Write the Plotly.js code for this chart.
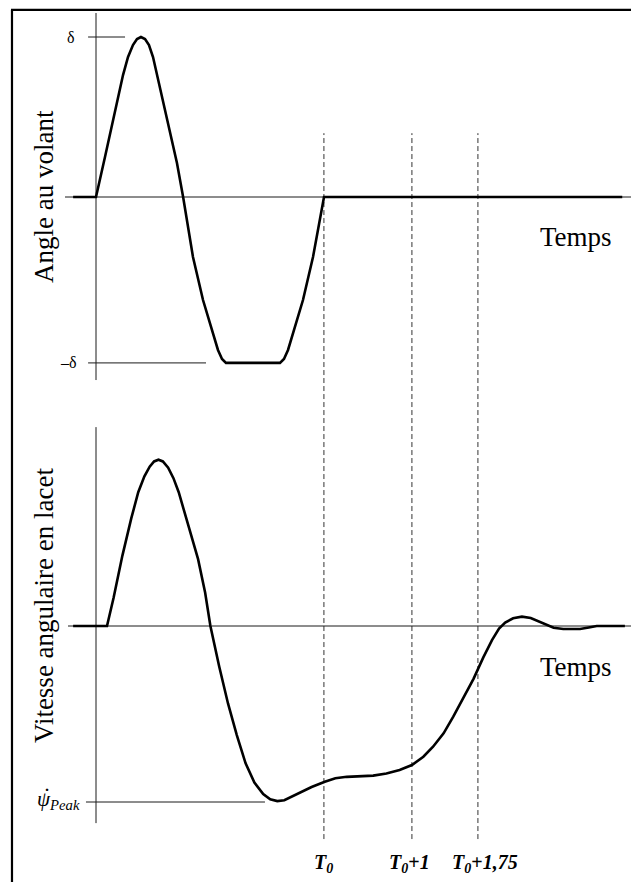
<!DOCTYPE html>
<html>
<head>
<meta charset="utf-8">
<script src="https://cdn.plot.ly/plotly-3.0.1.min.js"></script>
<style>html,body{margin:0;padding:0;background:#fff;}#chart{width:631px;height:882px;}</style>
</head>
<body>
<div id="chart"></div>
<script>
// ---- data (time in s, steering angle in units of delta, yaw rate in units of |psi_dot_peak|) ----
const T0 = 2.59;
const steerTime  = [-0.26, 0, 0.102, 0.193, 0.307, 0.364, 0.42, 0.466, 0.511, 0.557, 0.602, 0.648, 0.693, 0.761, 0.841, 0.92, 0.99, 1.102, 1.216, 1.33, 1.386, 1.432, 1.477, 2.091, 2.136, 2.182, 2.239, 2.352, 2.466, 2.591, 5.98];
const steerAngle = [0, 0, 0.25, 0.469, 0.762, 0.875, 0.95, 0.987, 1.0, 0.987, 0.95, 0.875, 0.762, 0.594, 0.412, 0.212, 0, -0.375, -0.644, -0.85, -0.956, -1.012, -1.037, -1.037, -1.012, -0.956, -0.85, -0.644, -0.375, 0, 0];
const yawTime = [-0.26, 0.125, 0.2, 0.3, 0.4, 0.48, 0.55, 0.61, 0.66, 0.71, 0.76, 0.82, 0.88, 0.94, 1.05, 1.16, 1.24, 1.30, 1.40, 1.50, 1.60, 1.70, 1.80, 1.90, 1.98, 2.06, 2.14, 2.22, 2.30, 2.45, 2.60, 2.72, 2.85, 3.00, 3.15, 3.30, 3.45, 3.59, 3.72, 3.83, 3.95, 4.06, 4.17, 4.29, 4.40, 4.50, 4.58, 4.65, 4.74, 4.84, 4.94, 5.04, 5.12, 5.20, 5.31, 5.50, 5.60, 5.69, 6.01];
const yawRate = [0, 0, 0.16, 0.40, 0.61, 0.76, 0.85, 0.905, 0.935, 0.945, 0.935, 0.90, 0.84, 0.76, 0.57, 0.38, 0.19, 0, -0.23, -0.44, -0.62, -0.78, -0.89, -0.955, -0.985, -0.995, -0.99, -0.97, -0.95, -0.915, -0.885, -0.865, -0.857, -0.854, -0.85, -0.838, -0.818, -0.79, -0.743, -0.686, -0.61, -0.515, -0.415, -0.30, -0.18, -0.08, -0.015, 0.02, 0.044, 0.053, 0.045, 0.025, 0.005, -0.01, -0.017, -0.017, -0.008, 0, 0];
const steerTickValues = [1, -1.037];
const steerTickLabels = ["δ", "–δ"];
const yawPeakValue = -1;
const yawPeakLabel = "<i>ψ</i><sub><i>Peak</i></sub>";
const yawPeakDot = "˙";
const markerOffsets = [0, 1, 1.75];
const markerLabels = ["<b><i>T<sub>0</sub></i></b>", "<b><i>T<sub>0</sub></i>+<i>1</i></b>", "<b><i>T<sub>0</sub></i>+<i>1,75</i></b>"];
const panelTitles = ["Angle au volant", "Vitesse angulaire en lacet"];
const timeLabel = "Temps";

// ---- chart ----
const serif = "Liberation Serif, Times New Roman, serif";
const axisCol = "#1a1a1a";
const traces = [
  {x: steerTime, y: steerAngle, xaxis: "x", yaxis: "y", mode: "lines",
   line: {color: "#000", width: 2.6}, hoverinfo: "skip"},
  {x: yawTime, y: yawRate, xaxis: "x", yaxis: "y2", mode: "lines",
   line: {color: "#000", width: 2.6}, hoverinfo: "skip"}
];

const shapes = [];
function seg(x0, y0, x1, y1, yref, w, col) {
  shapes.push({type: "line", xref: "x", yref: yref, x0: x0, y0: y0, x1: x1, y1: y1,
               line: {color: col || axisCol, width: w || 1}, layer: "below"});
}
// top panel axes
seg(0, -1.144, 0, 1.15, "y");
seg(-0.352, 0, 6.1, 0, "y");
seg(-0.09, steerTickValues[0], 0.33, steerTickValues[0], "y");
seg(-0.09, steerTickValues[1], 1.25, steerTickValues[1], "y");
// bottom panel axes
seg(0, -1.12, 0, 1.13, "y2");
seg(-0.318, 0, 6.1, 0, "y2");
seg(-0.114, yawPeakValue, 1.92, yawPeakValue, "y2");
// dashed markers
markerOffsets.forEach(function (d) {
  shapes.push({type: "line", xref: "x", yref: "paper", x0: T0 + d, x1: T0 + d, y0: 0.0487, y1: 0.849,
               line: {color: "#333", width: 1, dash: "5px,3px"}, layer: "below"});
});
// frame (top and left)
shapes.push({type: "line", xref: "paper", yref: "paper", x0: 0.0174, x1: 1.01, y0: 0.9887, y1: 0.9887, line: {color: "#000", width: 2.2}});
shapes.push({type: "line", xref: "paper", yref: "paper", x0: 0.0190, x1: 0.0190, y0: -0.01, y1: 0.9887, line: {color: "#000", width: 2.2}});

const annotations = [];
function txt(o) {
  annotations.push(Object.assign({showarrow: false, xanchor: "center", yanchor: "middle",
                                  font: {family: serif, size: 27, color: "#000"}}, o));
}
txt({xref: "x", yref: "y", x: -0.285, y: steerTickValues[0], text: steerTickLabels[0], font: {family: serif, size: 16, color: "#000"}});
txt({xref: "x", yref: "y", x: -0.31, y: steerTickValues[1], text: steerTickLabels[1], font: {family: serif, size: 16, color: "#000"}});
txt({xref: "paper", yref: "paper", x: 58 / 631, y: 1 - 800 / 882, text: yawPeakLabel, font: {family: serif, size: 21, color: "#000"}});
txt({xref: "paper", yref: "paper", x: 47 / 631, y: 1 - 796 / 882, text: yawPeakDot, font: {family: serif, size: 24, color: "#000"}});
txt({xref: "paper", yref: "paper", x: 44 / 631, y: 1 - 197 / 882, text: panelTitles[0], textangle: -90});
txt({xref: "paper", yref: "paper", x: 44 / 631, y: 1 - 606 / 882, text: panelTitles[1], textangle: -90});
txt({xref: "paper", yref: "paper", x: 576 / 631, y: 1 - 237 / 882, text: timeLabel});
txt({xref: "paper", yref: "paper", x: 576 / 631, y: 1 - 667 / 882, text: timeLabel});
const markerLabelShift = [0, -0.03, 0.08];
markerOffsets.forEach(function (d, i) {
  txt({xref: "x", yref: "paper", x: T0 + d + markerLabelShift[i], y: 1 - 863 / 882, text: markerLabels[i],
       font: {family: serif, size: 20, color: "#000"}});
});

const layout = {
  width: 631, height: 882,
  margin: {l: 0, r: 0, t: 0, b: 0},
  paper_bgcolor: "#fff", plot_bgcolor: "#fff",
  showlegend: false,
  xaxis: {range: [-96 / 88, 535 / 88], visible: false, fixedrange: true},
  yaxis: {range: [-685 / 160, 197 / 160], visible: false, fixedrange: true},
  yaxis2: {range: [-256 / 176, 626 / 176], visible: false, overlaying: "y", fixedrange: true},
  shapes: shapes,
  annotations: annotations
};
Plotly.newPlot("chart", traces, layout, {staticPlot: true, displayModeBar: false});
</script>
</body>
</html>
